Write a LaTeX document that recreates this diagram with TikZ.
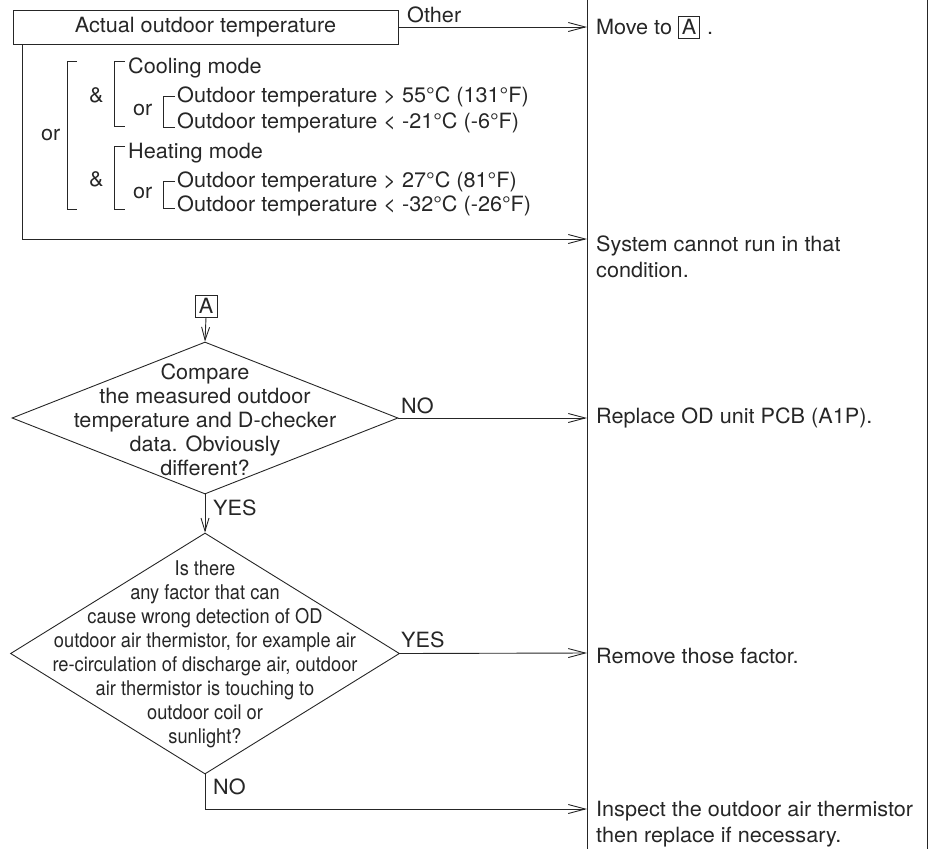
\documentclass[tikz,border=0pt]{standalone}
\usepackage{fontspec}
\setmainfont[FakeStretch=1.03]{TeX Gyre Heros}
\newfontfamily\condf[FakeStretch=0.9]{TeX Gyre Heros}
\usetikzlibrary{arrows.meta,shapes.geometric}
\definecolor{ink}{HTML}{262626}
\tikzset{
  ln/.style={draw=ink, line width=0.9pt},
  harr/.style={ln, -{Straight Barb[length=17pt,width=9pt,line width=0.9pt]}},
  varr/.style={ln, -{Straight Barb[length=13pt,width=8pt,line width=0.9pt]}},
  txt/.style={text=ink, inner sep=0pt, font=\fontsize{21}{24}\selectfont, anchor=west},
  ptxt/.style={text=ink, inner sep=0pt, font=\fontsize{21}{26}\selectfont, anchor=north west, align=left},
  ctxt/.style={text=ink, inner sep=0pt, font=\fontsize{21}{24}\selectfont, align=center},
  dtxt/.style={text=ink, inner sep=0pt, font=\condf\fontsize{20.3}{24}\selectfont, align=center},
  dia/.style={diamond, draw=ink, line width=0.9pt, inner sep=0pt},
  brk/.style={ln},
}
\setlength{\fboxsep}{3pt}
\setlength{\fboxrule}{0.8pt}
\begin{document}
\begin{tikzpicture}[x=1pt,y=-1pt]
\useasboundingbox (0,0) rectangle (931,849);

% right column lines
\draw[ln] (587,0) -- (587,849);
\draw[ln] (927,0) -- (927,849);

% top box
\node[ctxt, draw=ink, line width=0.9pt, minimum width=385pt, minimum height=34pt] (top) at (205.5,27) {Actual outdoor temperature};

% right column texts
\node[txt] (move) at (596,27) {Move to \fbox{A}\,\,.};
\node[ptxt] (sys) at (596,236) {System cannot run in that\\condition.};
\node[txt] (repl) at (596,418) {Replace OD unit PCB (A1P).};
\node[txt] (remv) at (596,656) {Remove those factor.};
\node[ptxt] (insp) at (596,801) {Inspect the outdoor air thermistor\\then replace if necessary.};

\coordinate (eOther) at (587,27);
\coordinate (eSys) at (587,239);
\coordinate (eNo1) at (587,418);
\coordinate (eYes2) at (587,653);
\coordinate (eNo2) at (587,809);

% Other arrow
\draw[harr] (top.east) -- (eOther);
\node[txt] (other) at (407,15) {Other};

% condition lines
\draw[harr] ([xshift=10pt]top.south west) |- (eSys);

% brackets
\node[txt] (or0) at (41,135) {or};
\draw[brk] (77,61.5) -- (67,61.5) -- (67,209) -- (77,209);
\node[txt] (amp1) at (89,95) {\&};
\draw[brk] (125,61.5) -- (114,61.5) -- (114,126) -- (125,126);
\node[txt] (cool) at (128,68) {Cooling mode};
\node[txt] (or1) at (133,110) {or};
\draw[brk] (175,96) -- (163,96) -- (163,127) -- (175,127);
\node[txt] (t1) at (177,97) {Outdoor temperature > 55°C (131°F)};
\node[txt] (t2) at (177,123) {Outdoor temperature < -21°C (-6°F)};
\node[txt] (amp2) at (89,179) {\&};
\draw[brk] (125,146) -- (114,146) -- (114,209) -- (125,209);
\node[txt] (heat) at (128,153) {Heating mode};
\node[txt] (or2) at (133,193) {or};
\draw[brk] (175,181) -- (163,181) -- (163,208) -- (175,208);
\node[txt] (t3) at (177,182) {Outdoor temperature > 27°C (81°F)};
\node[txt] (t4) at (177,206) {Outdoor temperature < -32°C (-26°F)};

% A marker
\node[ctxt, draw=ink, line width=0.8pt, minimum width=22pt, minimum height=22pt] (A) at (206,306) {A};

% diamond 1
\node[dia, minimum width=386pt, minimum height=152pt] (d1) at (205,418) {};
\node[ctxt] (d1t) at (205,420) {Compare\\the measured outdoor\\temperature and D-checker\\data. Obviously\\different?};
\draw[varr] (A.south) -- (d1.north);
\draw[harr] (d1.east) -- (eNo1);
\node[txt, anchor=south west] (no1) at (401,414) {NO};

% diamond 2
\node[dia, minimum width=389pt, minimum height=241pt] (d2) at (205,653.5) {};
\node[dtxt] (d2t) at (205,654) {Is there\\any factor that can\\cause wrong detection of OD\\outdoor air thermistor, for example air\\re-circulation of discharge air, outdoor\\air thermistor is touching to\\outdoor coil or\\sunlight?};
\draw[varr] (d1.south) -- (d2.north);
\node[txt, anchor=north west] (yes1) at (213,500) {YES};
\draw[harr] (d2.east) -- (eYes2);
\node[txt] (yes2) at (401,640) {YES};
\draw[harr] (d2.south) |- (eNo2);
\node[txt] (no2) at (213,787) {NO};
\end{tikzpicture}
\end{document}
